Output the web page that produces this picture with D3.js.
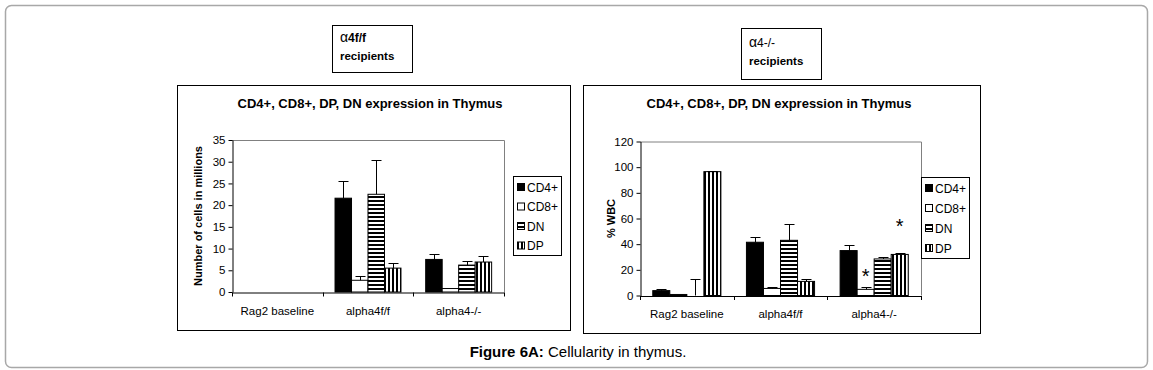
<!DOCTYPE html>
<html><head><meta charset="utf-8">
<script src="https://cdn.jsdelivr.net/npm/d3@7"></script>
<style>
body{margin:0;background:#fff}
svg{display:block}
text{font-family:"Liberation Sans",Arial,sans-serif;fill:#000}
</style>
</head><body>
<svg id="c" width="1153" height="370"></svg>
<script>
// ---------- data ----------
const categories = ["Rag2 baseline", "alpha4f/f", "alpha4-/-"];
const seriesNames = ["CD4+", "CD8+", "DN", "DP"];

// Left chart: number of cells in millions (α4f/f recipients)
const leftTicks = [0, 5, 10, 15, 20, 25, 30, 35];
const leftCD4 = [0, 21.6, 7.5];
const leftCD4Err = [0, 3.9, 1.2];
const leftCD8 = [0, 2.7, 0.8];
const leftCD8Err = [0, 0.9, 0];
const leftDN = [0, 22.5, 6.2];
const leftDNErr = [0, 8.0, 0.9];
const leftDP = [0, 5.5, 6.9];
const leftDPErr = [0, 1.1, 1.5];

// Right chart: % WBC (α4-/- recipients)
const rightTicks = [0, 20, 40, 60, 80, 100, 120];
const rightCD4 = [3.8, 41.5, 35.0];
const rightCD4Err = [1.5, 4.0, 4.0];
const rightCD8 = [0.8, 5.5, 4.8];
const rightCD8Err = [0, 1.3, 1.5];
const rightDN = [0, 43.0, 28.5];
const rightDNErr = [13.0, 12.5, 1.5];
const rightDP = [96.5, 11.0, 32.0];
const rightDPErr = [0.8, 1.5, 0.8];
const rightStarCategory = ["alpha4-/-", "alpha4-/-"];
const rightStarSeries = ["CD8+", "DP"];
const rightStarValue = [18.5, 57];

const chartTitle = "CD4+, CD8+, DP, DN expression in Thymus";

// ---------- drawing ----------
const svg = d3.select("#c");
const defs = svg.append("defs");
const hp = defs.append("pattern").attr("id", "hstripe").attr("patternUnits", "userSpaceOnUse")
  .attr("width", 4).attr("height", 4);
hp.append("rect").attr("width", 4).attr("height", 4).attr("fill", "#fff");
hp.append("rect").attr("width", 4).attr("height", 2).attr("fill", "#000");
const vp = defs.append("pattern").attr("id", "vstripe").attr("patternUnits", "userSpaceOnUse")
  .attr("width", 4).attr("height", 4);
vp.append("rect").attr("width", 4).attr("height", 4).attr("fill", "#fff");
vp.append("rect").attr("width", 2).attr("height", 4).attr("fill", "#000");

const fills = {"CD4+": "#000", "CD8+": "#fff", "DN": "url(#hstripe)", "DP": "url(#vstripe)"};

// outer frame
svg.append("rect").attr("x", 5.5).attr("y", 5.5).attr("width", 1142).attr("height", 362)
  .attr("rx", 6).attr("fill", "none").attr("stroke", "#a8a8a8").attr("stroke-width", 1.5);

function drawChart(cfg) {
  const g = svg.append("g");
  g.append("rect").attr("x", cfg.panel[0] + 0.5).attr("y", cfg.panel[1] + 0.5)
    .attr("width", cfg.panel[2]).attr("height", cfg.panel[3])
    .attr("fill", "#fff").attr("stroke", "#000").attr("stroke-width", 1);

  g.append("text").attr("x", cfg.titleX).attr("y", cfg.titleY).attr("text-anchor", "middle")
    .attr("font-size", 13).attr("font-weight", "bold").text(chartTitle);

  const x = d3.scaleBand().domain(categories).range([cfg.x0, cfg.x1]).paddingInner(0).paddingOuter(0);
  const xs = d3.scaleBand().domain(seriesNames).range([0, x.bandwidth()]).paddingInner(0).paddingOuter(0.75);
  const y = d3.scaleLinear().domain([0, d3.max(cfg.ticks)]).range([cfg.yBottom, cfg.yTop]);

  // plot border (gray top/right)
  g.append("path").attr("d", `M${cfg.x0},${cfg.yTop + 0.5}H${cfg.x1 + 0.5}V${cfg.yBottom}`)
    .attr("fill", "none").attr("stroke", "#808080").attr("stroke-width", 1);

  // bars
  const rows = [];
  seriesNames.forEach((s, si) => {
    categories.forEach((c, ci) => {
      rows.push({s, c, v: cfg.values[si][ci], e: cfg.errs[si][ci]});
    });
  });
  g.append("g").selectAll("rect").data(rows.filter(d => d.v > 0)).join("rect")
    .attr("x", d => x(d.c) + xs(d.s))
    .attr("y", d => y(d.v))
    .attr("width", xs.bandwidth())
    .attr("height", d => y(0) - y(d.v))
    .attr("fill", d => fills[d.s])
    .attr("stroke", "#000").attr("stroke-width", 1);

  // error bars (upper only)
  const eg = g.append("g").attr("stroke", "#000").attr("stroke-width", 1).attr("fill", "none");
  eg.selectAll("path").data(rows.filter(d => d.e > 0)).join("path")
    .attr("d", d => {
      const cx = Math.round(x(d.c) + xs(d.s) + xs.bandwidth() / 2) + 0.5;
      const yt = Math.round(y(d.v + d.e)) + 0.5;
      return `M${cx},${y(d.v)}V${yt}M${cx - 5},${yt}H${cx + 5}`;
    });

  // y axis
  const ya = d3.axisLeft(y).tickValues(cfg.ticks).tickSize(4).tickSizeOuter(0).tickPadding(3)
    .tickFormat(d3.format("d"));
  const yg = g.append("g").attr("transform", `translate(${cfg.x0 + 0.5},0)`).call(ya);
  yg.selectAll("text").attr("font-size", 11.5).attr("font-family", "Liberation Sans, Arial, sans-serif");
  yg.select(".domain").attr("stroke", "#000");

  // x axis
  const xg = g.append("g").attr("transform", `translate(0,${cfg.yBottom + 0.5})`)
    .call(d3.axisBottom(x).tickSize(0).tickPadding(14));
  xg.selectAll("text").attr("font-size", 11.5).attr("font-family", "Liberation Sans, Arial, sans-serif");
  xg.select(".domain").attr("stroke", "#000");
  const bounds = categories.map(c => x(c)).concat([cfg.x1]);
  xg.append("g").selectAll("line").data(bounds).join("line")
    .attr("x1", d => Math.round(d) + 0.5).attr("x2", d => Math.round(d) + 0.5)
    .attr("y1", 0).attr("y2", 4).attr("stroke", "#000");

  // y label
  g.append("text").attr("transform", `translate(${cfg.yLabelX},${(cfg.yTop + cfg.yBottom) / 2}) rotate(-90)`)
    .attr("text-anchor", "middle").attr("font-size", 11).attr("font-weight", "bold").text(cfg.yLabel);

  // legend
  const L = cfg.legend;
  g.append("rect").attr("x", L[0] + 0.5).attr("y", L[1] + 0.5).attr("width", L[2]).attr("height", L[3])
    .attr("fill", "#fff").attr("stroke", "#000");
  const li = g.append("g").selectAll("g").data(seriesNames).join("g")
    .attr("transform", (d, i) => `translate(${L[0] + 4},${L[4] + i * L[5]})`);
  li.append("rect").attr("x", 0.5).attr("y", -3.5).attr("width", 7).attr("height", 7)
    .attr("fill", d => fills[d]).attr("stroke", "#000");
  li.append("text").attr("x", 10).attr("y", 4.5).attr("font-size", 12).text(d => d);

  return {x, xs, y, g};
}

drawChart({
  panel: [177, 85, 393, 245],
  titleX: 370, titleY: 108,
  x0: 232, x1: 504, yTop: 140, yBottom: 292,
  ticks: leftTicks,
  values: [leftCD4, leftCD8, leftDN, leftDP],
  errs: [leftCD4Err, leftCD8Err, leftDNErr, leftDPErr],
  yLabel: "Number of cells in millions", yLabelX: 202,
  legend: [513, 176, 48, 79, 187, 19.5]
});

const R = drawChart({
  panel: [583, 85, 397, 248],
  titleX: 779, titleY: 108,
  x0: 640, x1: 921, yTop: 141.5, yBottom: 295.5,
  ticks: rightTicks,
  values: [rightCD4, rightCD8, rightDN, rightDP],
  errs: [rightCD4Err, rightCD8Err, rightDNErr, rightDPErr],
  yLabel: "% WBC", yLabelX: 615,
  legend: [921, 177, 48, 81, 188, 20]
});

// significance stars
R.g.append("g").selectAll("text").data(rightStarValue).join("text")
  .attr("x", (d, i) => R.x(rightStarCategory[i]) + R.xs(rightStarSeries[i]) + R.xs.bandwidth() / 2)
  .attr("y", d => R.y(d) + 11)
  .attr("text-anchor", "middle").attr("font-size", 20).text("*");

// inset boxes
function inset(x0, y0, w, h, lines) {
  svg.append("rect").attr("x", x0 + 0.5).attr("y", y0 + 0.5).attr("width", w).attr("height", h)
    .attr("fill", "#fff").attr("stroke", "#000");
  lines.forEach(l => {
    const t = svg.append("text").attr("x", x0 + 8).attr("y", y0 + l.dy).attr("font-size", l.size)
      .attr("font-weight", l.bold ? "bold" : "normal");
    if (l.greek) {
      t.append("tspan").attr("font-size", l.size + 2).attr("font-weight", "normal").text(l.greek);
    }
    t.append("tspan").text(l.text);
  });
}
inset(332, 25, 80, 47, [{greek: "α", text: "4f/f", dy: 17, size: 12, bold: true}, {text: "recipients", dy: 35, size: 11.5, bold: true}]);
inset(741, 28, 80, 51, [{greek: "α", text: "4-/-", dy: 19, size: 12, bold: false}, {text: "recipients", dy: 37, size: 11.5, bold: true}]);

// caption
const cap = svg.append("text").attr("x", 578).attr("y", 357).attr("text-anchor", "middle").attr("font-size", 15);
cap.append("tspan").attr("font-weight", "bold").text("Figure 6A:");
cap.append("tspan").text(" Cellularity in thymus.");
</script>
</body></html>
